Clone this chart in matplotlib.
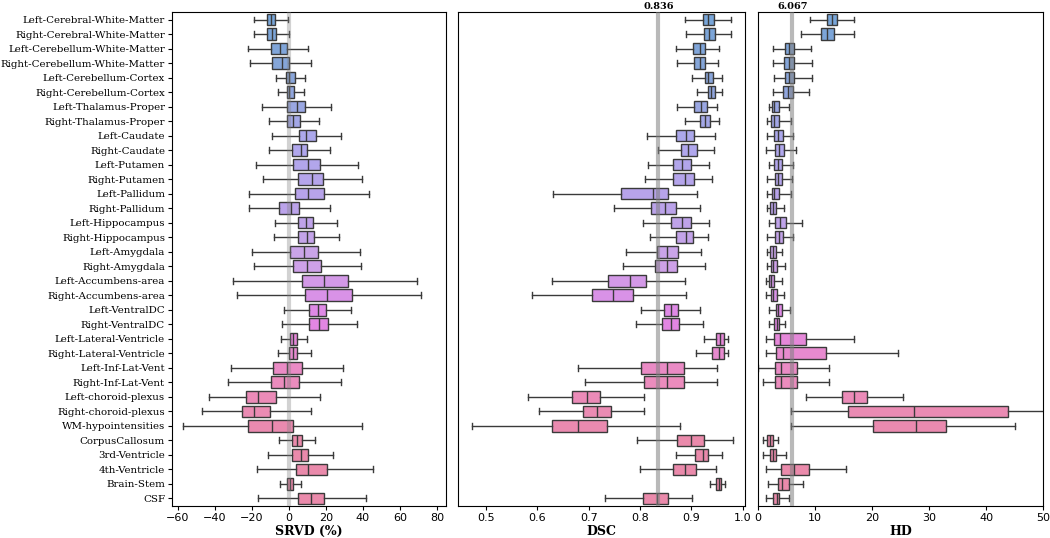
import numpy as np
import matplotlib
matplotlib.use("Agg")
import matplotlib.pyplot as plt
import seaborn as sns

regions = ["Left-Cerebral-White-Matter", "Right-Cerebral-White-Matter",
           "Left-Cerebellum-White-Matter", "Right-Cerebellum-White-Matter",
           "Left-Cerebellum-Cortex", "Right-Cerebellum-Cortex",
           "Left-Thalamus-Proper", "Right-Thalamus-Proper",
           "Left-Caudate", "Right-Caudate", "Left-Putamen", "Right-Putamen",
           "Left-Pallidum", "Right-Pallidum", "Left-Hippocampus", "Right-Hippocampus",
           "Left-Amygdala", "Right-Amygdala", "Left-Accumbens-area", "Right-Accumbens-area",
           "Left-VentralDC", "Right-VentralDC", "Left-Lateral-Ventricle", "Right-Lateral-Ventricle",
           "Left-Inf-Lat-Vent", "Right-Inf-Lat-Vent", "Left-choroid-plexus", "Right-choroid-plexus",
           "WM-hypointensities", "CorpusCallosum", "3rd-Ventricle", "4th-Ventricle",
           "Brain-Stem", "CSF"]

# each row: whisker low, q1, median, q3, whisker high
srvd = [
    [-18.8, -12.1, -9.6, -7.5, -0.7], [-18.8, -12.1, -9.4, -7.0, -0.2],
    [-22.3, -9.9, -4.9, -1.2, 10.4], [-21.1, -9.0, -4.0, 0.0, 12.1],
    [-7.2, -1.6, 0.2, 3.2, 8.6], [-6.1, -1.2, 0.2, 2.9, 8.3],
    [-14.8, -0.9, 4.2, 8.8, 22.7], [-10.6, -0.9, 2.0, 5.9, 16.2],
    [-9.0, 5.2, 9.2, 14.4, 28.1], [-10.6, 1.8, 6.5, 9.9, 22.2],
    [-18.0, 2.3, 10.4, 16.8, 37.1], [-14.2, 4.7, 12.3, 18.5, 39.6],
    [-21.4, 3.1, 10.4, 19.1, 43.2], [-21.8, -5.4, 0.9, 5.6, 22.2],
    [-7.4, 4.7, 9.2, 13.1, 26.1], [-7.9, 5.0, 9.9, 13.7, 27.0],
    [-20.2, 0.5, 8.1, 15.8, 38.4], [-18.7, 2.3, 9.6, 17.1, 38.7],
    [-30.1, 7.0, 18.9, 32.1, 69.0], [-28.3, 8.6, 20.4, 34.2, 71.2],
    [-2.7, 11.0, 15.5, 19.8, 33.5], [-4.0, 11.0, 16.4, 21.2, 36.6],
    [-4.5, 0.5, 2.3, 4.2, 9.9], [-6.1, 0.2, 2.3, 4.5, 11.7],
    [-31.5, -8.5, -1.2, 6.9, 29.4], [-32.8, -9.7, -2.7, 5.6, 28.1],
    [-43.2, -23.4, -16.9, -7.2, 16.8], [-46.8, -25.2, -18.7, -10.3, 11.7],
    [-57.1, -22.3, -9.4, 2.3, 39.6], [-5.6, 1.6, 4.2, 6.9, 14.2],
    [-11.5, 1.5, 6.5, 10.4, 23.9], [-17.5, 3.8, 10.4, 20.7, 45.2],
    [-4.9, -0.9, 0.5, 2.0, 6.5], [-16.9, 4.7, 11.7, 19.1, 41.5],
]

dsc = [
    [0.888, 0.922, 0.932, 0.944, 0.977], [0.890, 0.924, 0.935, 0.947, 0.977],
    [0.870, 0.904, 0.916, 0.927, 0.953], [0.872, 0.905, 0.916, 0.927, 0.951],
    [0.902, 0.926, 0.933, 0.942, 0.959], [0.912, 0.932, 0.939, 0.947, 0.959],
    [0.872, 0.906, 0.918, 0.930, 0.950], [0.888, 0.917, 0.926, 0.937, 0.953],
    [0.814, 0.870, 0.889, 0.906, 0.946], [0.835, 0.880, 0.894, 0.911, 0.944],
    [0.816, 0.864, 0.881, 0.899, 0.935], [0.810, 0.865, 0.888, 0.906, 0.940],
    [0.630, 0.763, 0.826, 0.855, 0.911], [0.750, 0.822, 0.849, 0.870, 0.917],
    [0.805, 0.860, 0.881, 0.899, 0.935], [0.820, 0.870, 0.889, 0.904, 0.932],
    [0.772, 0.833, 0.853, 0.874, 0.919], [0.766, 0.829, 0.852, 0.872, 0.927],
    [0.628, 0.738, 0.781, 0.811, 0.888], [0.589, 0.707, 0.748, 0.786, 0.890],
    [0.802, 0.846, 0.860, 0.874, 0.917], [0.792, 0.842, 0.860, 0.875, 0.922],
    [0.924, 0.948, 0.955, 0.963, 0.972], [0.909, 0.941, 0.954, 0.963, 0.972],
    [0.680, 0.802, 0.853, 0.886, 0.950], [0.692, 0.808, 0.853, 0.886, 0.950],
    [0.582, 0.667, 0.696, 0.722, 0.807], [0.604, 0.688, 0.716, 0.744, 0.807],
    [0.472, 0.628, 0.680, 0.735, 0.878], [0.794, 0.872, 0.899, 0.924, 0.981],
    [0.870, 0.907, 0.922, 0.932, 0.959], [0.800, 0.865, 0.888, 0.909, 0.948],
    [0.937, 0.948, 0.953, 0.958, 0.966], [0.732, 0.805, 0.834, 0.855, 0.901],
]

hd = [
    [9.2, 12.1, 13.0, 13.9, 16.9], [7.6, 11.0, 12.2, 13.4, 16.9],
    [2.6, 4.7, 5.5, 6.4, 9.3], [2.6, 4.6, 5.5, 6.4, 9.5],
    [2.9, 4.7, 5.5, 6.4, 9.5], [2.6, 4.4, 5.3, 6.2, 9.0],
    [1.9, 2.5, 2.9, 3.8, 5.4], [1.6, 2.3, 2.9, 3.7, 5.8],
    [1.6, 2.9, 3.6, 4.5, 6.2], [1.5, 3.0, 3.7, 4.6, 6.7],
    [1.9, 2.9, 3.5, 4.3, 6.1], [1.6, 3.0, 3.6, 4.3, 6.0],
    [1.6, 2.5, 2.9, 3.8, 5.8], [1.6, 2.2, 2.6, 3.2, 4.6],
    [1.9, 3.0, 3.9, 5.0, 7.8], [1.7, 3.0, 3.7, 4.5, 6.2],
    [1.6, 2.2, 2.6, 3.2, 4.3], [1.6, 2.3, 2.6, 3.3, 4.7],
    [1.5, 2.0, 2.3, 2.9, 4.2], [1.5, 2.3, 2.6, 3.3, 4.6],
    [2.0, 3.2, 3.6, 4.2, 5.7], [2.0, 2.9, 3.3, 3.8, 4.8],
    [1.5, 2.9, 3.9, 8.5, 16.9], [1.5, 3.2, 4.5, 11.9, 24.6],
    [0.1, 3.0, 4.1, 6.8, 12.4], [1.0, 3.0, 4.1, 6.8, 12.5],
    [8.4, 14.8, 16.9, 19.1, 25.4], [5.8, 15.8, 27.3, 43.8, 51.0],
    [5.9, 20.2, 27.7, 33.0, 45.1], [1.0, 1.7, 2.2, 2.6, 3.6],
    [1.0, 2.2, 2.6, 3.2, 5.0], [1.5, 4.1, 6.4, 8.9, 15.5],
    [1.8, 3.6, 4.3, 5.5, 7.9], [1.5, 2.6, 3.3, 3.8, 5.5],
]

metrics = ["SRVD (%)", "DSC", "HD"]
ref_lines = [0.0, 0.836, 6.067]
ref_labels = [None, "0.836", "6.067"]

n = len(regions)
colors = sns.blend_palette(["#78a5d8", "#8aa6da", "#aea8ec", "#b8a3ea",
                            "#cba4e8", "#e286e6", "#eb8cbe", "#ea8aab",
                            "#ea8aab"], n)

fig = plt.figure(figsize=(10.5, 5.38), dpi=100)
bottom, height = 0.0602, 0.9169
axes = [fig.add_axes([0.1638, bottom, 0.2610, height]),
        fig.add_axes([0.4362, bottom, 0.2733, height]),
        fig.add_axes([0.7216, bottom, 0.2720, height])]
xlims = [(-63.2, 84.9), (0.4454, 1.0045), (0, 50)]
line_alpha = [0.35, 0.55, 0.55]

edge = "#3a3a3a"
for k, (ax, data) in enumerate(zip(axes, [srvd, dsc, hd])):
    stats = [dict(whislo=r[0], q1=r[1], med=r[2], q3=r[3], whishi=r[4], label=regions[i])
             for i, r in enumerate(data)]
    res = ax.bxp(stats, positions=np.arange(n), widths=0.8, capwidths=0.4,
                 orientation="horizontal", patch_artist=True, showfliers=False,
                 manage_ticks=False,
                 boxprops=dict(edgecolor=edge, linewidth=1.0),
                 medianprops=dict(color=edge, linewidth=1.0),
                 whiskerprops=dict(color=edge, linewidth=1.0),
                 capprops=dict(color=edge, linewidth=1.0))
    for patch, c in zip(res["boxes"], colors):
        patch.set_facecolor(c)
    ax.axvline(ref_lines[k], color="gray", alpha=line_alpha[k], lw=3, zorder=5)
    if ref_labels[k]:
        ax.text(ref_lines[k], 1.003, ref_labels[k], transform=ax.get_xaxis_transform(),
                ha="center", va="bottom", fontsize=7, fontweight="bold", family="DejaVu Serif")
    ax.set_ylim(n - 0.5, -0.5)
    ax.set_xlim(*xlims[k])
    ax.set_xlabel(metrics[k], fontsize=9, fontweight="bold", family="DejaVu Serif", labelpad=2)
    ax.tick_params(axis="x", labelsize=8, length=3, pad=2)
    if k == 0:
        ax.set_yticks(np.arange(n))
        ax.set_yticklabels(regions, fontsize=7.35, family="DejaVu Serif")
        ax.tick_params(axis="y", length=3, pad=2)
    else:
        ax.set_yticks([])

fig.savefig("out.png", dpi=100)
